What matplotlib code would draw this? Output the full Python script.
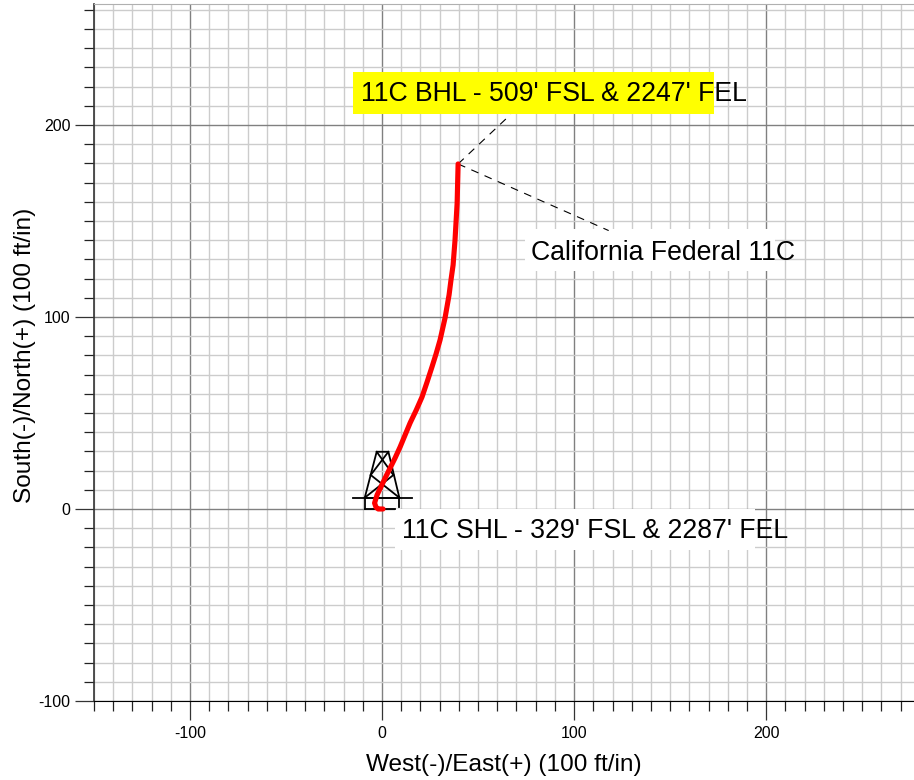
"""
Well plan view - California Federal 11C
"""

#%% Imports
import matplotlib
matplotlib.use('Agg')
import matplotlib.pyplot as plt
from matplotlib.patches import Rectangle

plt.rcParams['font.family'] = ['Liberation Sans', 'DejaVu Sans']
plt.rcParams['axes.unicode_minus'] = False

#%% Data
path_x = [0.5, -2, -3.1, -3.9, -2.6, 1.6, 6.8, 9.4, 14.6, 17.8, 20.8, 23.4, 26.0, 28.1, 30.2, 32.8, 34.9, 35.9, 37.0, 38.0, 39.1, 39.6]
path_y = [0, 0, 0.8, 3.1, 7.3, 16.1, 26.6, 32.3, 44.8, 51.5, 58.3, 66.0, 74.0, 80.7, 88.0, 99.5, 111.5, 119.3, 127.1, 140.1, 159.4, 179.7]

major_ticks = [-100, 0, 100, 200]
minor_ticks = list(range(-150, 280, 10))

# derrick outline, one list per stroke
rig_strokes = [
    ([-15.3, 15.5], [5.9, 5.9]),
    ([-9, -9, 9, 9], [0, 5.9, 5.9, 1]),
    ([-9, 7], [0, 0]),
    ([-9, -2.8, 3.3, 9], [5.9, 29.8, 29.8, 5.9]),
    ([-2.8, 5.9], [29.8, 17.7]),
    ([3.3, -5.9], [29.8, 17.7]),
    ([-5.9, 9], [17.7, 5.9]),
    ([5.9, -9], [17.7, 5.9]),
]

leader_bhl = ([39.6, 67], [179.7, 205.5])
leader_name = ([39.6, 118], [179.7, 145])

bhl_label = "11C BHL - 509' FSL & 2247' FEL"
shl_label = "11C SHL - 329' FSL & 2287' FEL"
name_label = "California Federal 11C"

#%% Plot
fig = plt.figure(figsize=(9.14, 7.8), dpi=100)
ax = fig.add_axes([94 / 914, 79 / 780, 820 / 914, 697 / 780])
ax.set_xlim(-150, 277)
ax.set_ylim(-100, 263)

ax.set_xticks(major_ticks)
ax.set_yticks(major_ticks)
ax.set_xticks(minor_ticks, minor=True)
ax.set_yticks([t for t in minor_ticks if -100 <= t <= 263], minor=True)
ax.tick_params(which='major', length=13.5, width=0.9, labelsize=11.5, color='#333333')
ax.tick_params(which='minor', length=7, width=0.9, color='#222222')
ax.tick_params(axis='x', which='major', pad=4.5)
ax.tick_params(axis='y', which='major', pad=3.5)
ax.grid(which='minor', color='#cccccc', lw=1.0, zorder=0)
ax.grid(which='major', color='#808080', lw=1.0, zorder=0.5)
ax.set_axisbelow(True)

ax.spines['right'].set_visible(False)
ax.spines['top'].set_color('#b0b0b0')
ax.spines['left'].set_color('#333333')
ax.spines['left'].set_linewidth(1.2)
ax.spines['bottom'].set_color('black')

ax.set_xlabel('West(-)/East(+) (100 ft/in)', fontsize=17.6, labelpad=9)
ax.set_ylabel('South(-)/North(+) (100 ft/in)', fontsize=17.6, labelpad=1.5, y=0.496)

# label backgrounds
ax.add_patch(Rectangle((-15.1, 205.7), 188, 21.9, color='#ffff00', lw=0, zorder=3))
ax.add_patch(Rectangle((74.5, 124), 130.2, 21.8, color='white', lw=0, zorder=3))
ax.add_patch(Rectangle((6.8, -21.4), 187.5, 21.4, color='white', lw=0, zorder=3))

for xs, ys in rig_strokes:
    ax.plot(xs, ys, color='black', lw=1.3, zorder=4)

ax.plot(*leader_bhl, color='black', lw=0.8, ls=(0, (7, 6)), zorder=4)
ax.plot(*leader_name, color='black', lw=0.8, ls=(0, (7, 6)), zorder=4)
ax.plot(path_x, path_y, color='#ff0000', lw=3.7, solid_capstyle='round', solid_joinstyle='round', zorder=5)

ax.text(-11, 216, bhl_label, fontsize=19.2, va='center', ha='left', zorder=6)
ax.text(77.5, 133.5, name_label, fontsize=19.2, va='center', ha='left', zorder=6)
ax.text(10.5, -11.5, shl_label, fontsize=19.2, va='center', ha='left', zorder=6)

fig.savefig('out.png', dpi=100)
